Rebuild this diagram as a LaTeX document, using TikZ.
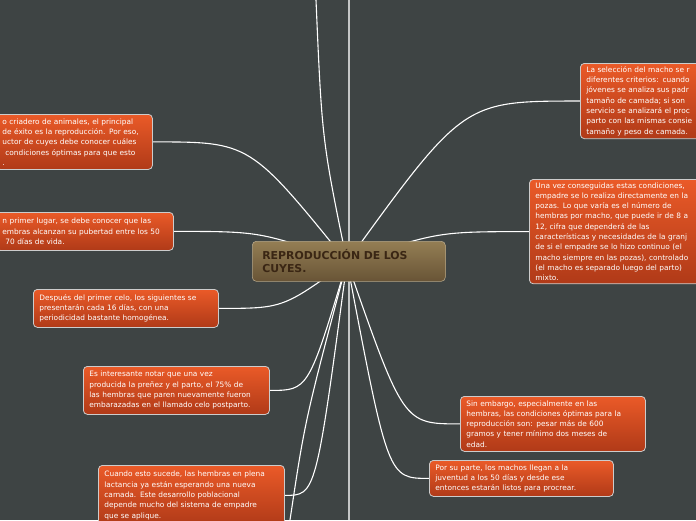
\documentclass[tikz,border=0pt]{standalone}
\usepackage{fontspec}
\setmainfont{DejaVu Sans}
\usetikzlibrary{calc,backgrounds}

\definecolor{pagebg}{RGB}{62,68,68}
\definecolor{leaftop}{RGB}{234,90,40}
\definecolor{leafbot}{RGB}{176,58,24}
\definecolor{roottop}{RGB}{148,126,84}
\definecolor{rootbot}{RGB}{104,84,54}
\definecolor{roottext}{RGB}{58,38,20}
\definecolor{spine}{RGB}{196,198,198}

\tikzset{
    leaf/.style={draw=white!80!black, line width=0.8pt, rounded corners=4pt,
        top color=leaftop, bottom color=leafbot, text=white,
        anchor=north west, align=left, inner xsep=6pt, inner ysep=3pt,
        font=\fontsize{7.4}{10.3}\selectfont},
    root/.style={draw=roottop!70!white, line width=0.6pt, rounded corners=4pt,
        top color=roottop, bottom color=rootbot, text=roottext,
        anchor=north west, align=left, inner xsep=10pt,
        minimum width=193pt, minimum height=40pt, text width=173pt,
        font=\bfseries\fontsize{10.9}{13}\selectfont},
    link/.style={white, line width=1.1pt},
}

\begin{document}
\begin{tikzpicture}[x=1pt, y=-1pt]
    \useasboundingbox (0,0) rectangle (696,520);

    \coordinate (hub) at (347,262);
    \coordinate (topend) at (316,0);
    \coordinate (botend) at (290,520);
    \coordinate (spinetop) at (349,0);
    \coordinate (spinebot) at (349,520);

    \node[root] (root) at (252,241) {REPRODUCCIÓN DE LOS\\CUYES.};

    % left side
    \node[leaf, text width=144pt, minimum height=55pt, inner ysep=2pt] (n1) at (-4,114)
        {o criadero de animales, el principal\\de éxito es la reproducción. Por eso,\\uctor de cuyes debe conocer cuáles\\\hspace{3pt}condiciones óptimas para que esto\\.};
    \node[leaf, text width=165pt, minimum height=38pt] (n2) at (-4,212)
        {n primer lugar, se debe conocer que las\\embras alcanzan su pubertad entre los 50\\\hspace{3pt}70 días de vida.};
    \node[leaf, text width=173pt, minimum height=38pt] (n3) at (33,289)
        {Después del primer celo, los siguientes se\\presentarán cada 16 días, con una\\periodicidad bastante homogénea.};
    \node[leaf, text width=174pt, minimum height=48pt] (n4) at (83,366)
        {Es interesante notar que una vez\\producida la preñez y el parto, el 75\% de\\las hembras que paren nuevamente fueron\\embarazadas en el llamado celo postparto.};
    \node[leaf, text width=174pt, minimum height=60pt] (n5) at (98,465)
        {Cuando esto sucede, las hembras en plena\\lactancia ya están esperando una nueva\\camada. Este desarrollo poblacional\\depende mucho del sistema de empadre\\que se aplique.};

    % right side
    \node[leaf, text width=190pt, minimum height=75pt] (n6) at (580,63)
        {La selección del macho se r\\diferentes criterios: cuando\\jóvenes se analiza sus padr\\tamaño de camada; si son\\servicio se analizará el proc\\parto con las mismas consie\\tamaño y peso de camada.};
    \node[leaf, text width=190pt, minimum height=104pt] (n7) at (529,179)
        {Una vez conseguidas estas condiciones,\\empadre se lo realiza directamente en la\\pozas. Lo que varía es el número de\\hembras por macho, que puede ir de 8 a\\12, cifra que dependerá de las\\características y necesidades de la granj\\de si el empadre se lo hizo continuo (el\\macho siempre en las pozas), controlado\\(el macho es separado luego del parto)\\mixto.};
    \node[leaf, text width=173pt, minimum height=55pt] (n8) at (460,396)
        {Sin embargo, especialmente en las\\hembras, las condiciones óptimas para la\\reproducción son: pesar más de 600\\gramos y tener mínimo dos meses de\\edad.};
    \node[leaf, text width=172pt, minimum height=36pt] (n9) at (429,460)
        {Por su parte, los machos llegan a la\\juventud a los 50 días y desde ese\\entonces estarán listos para procrear.};

    \begin{pgfonlayer}{background}
        \fill[pagebg] (0,0) rectangle (696,520);
        \draw[spine, line width=1.4pt] (spinetop) -- (spinebot);
        \foreach \n in {n1,n2,n3,n4,n5} {
            \draw[link] (\n.east) .. controls ($(\n.east)!0.5!(hub|-\n.east)$) .. (hub);
        }
        \foreach \n in {n6,n7,n8,n9} {
            \draw[link] (\n.west) .. controls ($(\n.west)!0.5!(hub|-\n.west)$) .. (hub);
        }
        \draw[link] (topend) .. controls (322,140) .. (hub);
        \draw[link] (botend) .. controls (305,420) .. (hub);
    \end{pgfonlayer}
\end{tikzpicture}
\end{document}
